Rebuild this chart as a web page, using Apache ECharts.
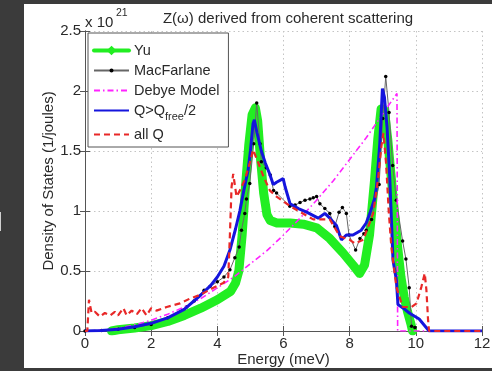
<!DOCTYPE html>
<html><head><meta charset="utf-8">
<script src="https://cdn.jsdelivr.net/npm/echarts@6/dist/echarts.min.js"></script>
<style>
html,body{margin:0;padding:0;background:#3b3b3b;}
#bgw{position:absolute;left:24px;top:4px;width:468px;height:364px;background:#fff;}
#mark{position:absolute;left:0;top:212px;width:1px;height:19px;background:#cfcfcf;}
#c{position:absolute;left:0;top:0;width:492px;height:371px;}
</style></head><body>
<div id="bgw"></div><div id="mark"></div><div id="c"></div>
<script>
// ---- data (energy meV, density of states x1e21 1/J) ----
const xTicks = [0, 2, 4, 6, 8, 10, 12];
const yTicks = [0, 0.5, 1, 1.5, 2, 2.5];

const yuE = [0.8,1.0,1.5,2.0,2.5,3.0,3.5,4.0,4.4,4.55,4.65,4.75,4.85,4.95,5.05,5.15,5.22,5.3,5.4,5.5,5.6,5.8,6.2,6.6,7.0,7.4,7.8,8.1,8.3,8.45,8.6,8.75,8.85,8.95,9.05,9.15,9.25,9.35,9.45,9.55,9.65,9.75,9.85,9.9];
const yuV = [0.0,0.01,0.025,0.045,0.08,0.13,0.19,0.26,0.33,0.4,0.5,0.8,1.2,1.55,1.8,1.86,1.75,1.45,1.15,0.97,0.92,0.9,0.9,0.89,0.86,0.77,0.65,0.55,0.48,0.55,0.8,1.25,1.6,1.85,1.84,1.6,1.3,1.0,0.7,0.45,0.28,0.16,0.06,0.0];

const macE = [0,0.5,1.0,1.5,2.0,2.5,3.07,3.3,3.6,3.78,4.0,4.2,4.38,4.53,4.66,4.73,4.83,4.88,4.98,5.1,5.19,5.29,5.33,5.48,5.6,5.7,5.79,6.19,6.35,6.5,6.65,6.8,6.9,7.0,7.1,7.25,7.4,7.55,7.68,7.78,7.9,7.98,8.18,8.31,8.43,8.5,8.66,8.89,9.0,9.09,9.19,9.3,9.41,9.6,9.7,9.8,9.87,9.97];
const macV = [0,0.005,0.015,0.03,0.055,0.11,0.2,0.25,0.34,0.37,0.41,0.45,0.51,0.61,0.7,0.84,0.98,1.1,1.23,1.56,1.9,1.56,1.41,1.36,1.3,1.17,1.15,1.04,1.05,1.07,1.09,1.1,1.11,1.12,1.06,1.02,0.98,0.87,0.99,1.03,0.98,0.8,0.675,0.77,0.81,0.84,0.93,1.22,1.77,2.12,1.82,1.38,1.09,0.75,0.6,0.36,0.04,0.03];

const debyeE = [0,0.5,1,1.5,2,2.5,3,3.5,4,4.5,5,5.5,6,6.5,7,7.5,8,8.5,9,9.43,9.45,12];
const debyeV = [0,0.006,0.022,0.05,0.09,0.14,0.2,0.27,0.36,0.45,0.56,0.67,0.8,0.94,1.09,1.25,1.43,1.61,1.81,1.98,0,0];

const qE = [0,0.5,1.0,1.5,2.0,2.5,3.0,3.5,3.8,4.0,4.2,4.38,4.55,4.68,4.8,4.93,5.0,5.08,5.12,5.2,5.33,5.45,5.58,5.69,5.79,5.99,6.05,6.2,6.45,6.7,7.05,7.25,7.4,7.6,7.75,7.9,8.1,8.35,8.5,8.61,8.75,8.81,8.91,8.99,9.05,9.13,9.21,9.31,9.41,9.46,9.62,9.8,10.1,10.4,12];
const qV = [0,0.005,0.015,0.035,0.064,0.11,0.18,0.3,0.38,0.45,0.54,0.675,0.85,1.0,1.17,1.34,1.5,1.73,1.76,1.65,1.5,1.4,1.31,1.22,1.24,1.27,1.2,1.06,1.02,0.99,0.94,0.98,0.94,0.88,0.76,0.8,0.8,0.84,0.9,0.98,1.1,1.2,1.56,2.02,1.95,1.7,1.29,0.59,0.43,0.22,0.19,0.15,0.1,0,0];

const allE = [0,0.07,0.12,0.2,0.3,0.45,0.6,0.76,0.9,1.0,1.16,1.26,1.41,1.57,1.71,1.86,2.0,2.16,2.47,2.87,3.17,3.47,3.88,4.18,4.33,4.38,4.43,4.48,4.58,4.68,4.83,4.98,5.08,5.24,5.39,5.59,5.79,6.2,6.9,7.4,7.7,8.0,8.16,8.41,8.71,8.85,8.96,9.02,9.1,9.18,9.26,9.41,9.6,9.87,10.02,10.17,10.27,10.32,10.37,10.4,12];
const allV = [0,0,0.26,0.15,0.16,0.12,0.15,0.13,0.16,0.13,0.19,0.13,0.17,0.14,0.19,0.13,0.19,0.17,0.2,0.23,0.27,0.3,0.36,0.4,0.45,0.8,1.2,1.31,1.12,1.17,1.26,1.4,1.51,1.4,1.29,1.17,1.12,1.04,0.93,0.93,0.79,0.76,0.73,0.76,0.98,1.25,1.54,1.65,1.4,1.0,0.7,0.37,0.2,0.2,0.23,0.37,0.48,0.34,0.09,0,0];

const seriesNames = ['Yu', 'MacFarlane', 'Debye Model', 'Q>Qfree/2', 'all Q'];
const titleText = 'Z(\u03C9) derived from coherent scattering';
const xName = 'Energy (meV)';
const yName = 'Density of States (1/joules)';

const zip = (a, b) => a.map((v, i) => [v, b[i]]);
const FONT = '"Liberation Sans", Arial, Helvetica, sans-serif';
const TXT = '#2a2a2a';
const GREEN = '#22ee22', BLUE = '#1515dd', RED = '#e82828', MAG = '#ff22ff';

const chart = echarts.init(document.getElementById('c'), null, {renderer: 'canvas'});
const baseAxis = {
  type: 'value', min: 0,
  axisLine: {show: true, lineStyle: {color: '#555', width: 1}},
  axisTick: {show: true, inside: true, length: 5, lineStyle: {color: '#555'}},
  splitLine: {show: true, lineStyle: {color: '#c4c4c4', type: [1.5, 3], width: 1}},
  axisLabel: {color: TXT, fontSize: 15, fontFamily: FONT}
};
chart.setOption({
  animation: false,
  backgroundColor: 'transparent',
  textStyle: {fontFamily: FONT},
  title: {
    text: titleText, left: 283, top: 6, textAlign: 'center',
    textStyle: {fontSize: 15, fontWeight: 'normal', color: TXT, fontFamily: FONT}
  },
  grid: {left: 85, right: 10, top: 31, bottom: 40, containLabel: false, outerBoundsMode: 'none'},
  xAxis: [
    Object.assign({}, baseAxis, {
      max: 12, interval: 2, position: 'bottom',
      axisLabel: Object.assign({}, baseAxis.axisLabel, {margin: 5, formatter: v => xTicks.includes(v) ? String(v) : ''}),
      name: xName, nameLocation: 'middle', nameGap: 21, nameMoveOverlap: false,
      nameTextStyle: {fontSize: 15, color: TXT, fontFamily: FONT}
    }),
    Object.assign({}, baseAxis, {max: 12, interval: 2, position: 'top', axisLabel: {show: false}, splitLine: {show: false}})
  ],
  yAxis: [
    Object.assign({}, baseAxis, {
      max: 2.5, interval: 0.5, position: 'left',
      axisLabel: Object.assign({}, baseAxis.axisLabel, {margin: 4, formatter: v => yTicks.includes(v) ? String(v) : ''}),
      name: yName, nameLocation: 'middle', nameGap: 29, nameMoveOverlap: false,
      nameTextStyle: {fontSize: 15, color: TXT, fontFamily: FONT}
    }),
    Object.assign({}, baseAxis, {max: 2.5, interval: 0.5, position: 'right', axisLabel: {show: false}, splitLine: {show: false}})
  ],
  legend: {
    orient: 'vertical', left: 88, top: 33,
    backgroundColor: '#fff', borderColor: '#555', borderWidth: 1,
    padding: [10, 9, 5, 4], itemGap: 5, itemWidth: 35, itemHeight: 5, itemTextGap: 4,
    data: [
      {name: 'Yu', itemStyle: {borderColor: GREEN, borderWidth: 4}, lineStyle: {width: 4}},
      {name: 'MacFarlane'},
      {name: 'Debye Model', itemStyle: {opacity: 0}},
      {name: 'Q>Qfree/2', itemStyle: {opacity: 0}},
      {name: 'all Q', itemStyle: {opacity: 0}}
    ],
    textStyle: {
      fontSize: 14.5, color: TXT, fontFamily: FONT,
      rich: {
        n: {fontSize: 14.5, color: TXT, fontFamily: FONT},
        s: {fontSize: 11, color: TXT, fontFamily: FONT, padding: [12, 0, 0, 0]}
      }
    },
    formatter: name => name === 'Q>Qfree/2' ? '{n|Q>Q}{s|free}{n|/2}' : '{n|' + name + '}'
  },
  graphic: [
    {type: 'text', left: 85, top: 15, style: {text: 'x 10', fill: TXT, font: '15px ' + FONT}},
    {type: 'text', left: 116, top: 8, style: {text: '21', fill: TXT, font: '10.5px ' + FONT}}
  ],
  series: [
    {name: 'Yu', type: 'line', data: zip(yuE, yuV), showSymbol: false, symbol: 'diamond',
     lineStyle: {color: GREEN, width: 9, join: 'round', cap: 'round'}, itemStyle: {color: GREEN}, z: 1},
    {name: 'MacFarlane', type: 'line', data: zip(macE, macV), showSymbol: true, symbol: 'circle', symbolSize: 3.5,
     lineStyle: {color: '#666', width: 1}, itemStyle: {color: '#000', borderWidth: 0}, z: 2},
    {name: 'Debye Model', type: 'line', data: zip(debyeE, debyeV), showSymbol: false, symbol: 'none',
     lineStyle: {color: MAG, width: 1.6, type: [6, 3, 1.5, 3]}, itemStyle: {color: MAG}, z: 3},
    {name: 'Q>Qfree/2', type: 'line', data: zip(qE, qV), showSymbol: false, symbol: 'none',
     lineStyle: {color: BLUE, width: 3}, itemStyle: {color: BLUE}, z: 4},
    {name: 'all Q', type: 'line', data: zip(allE, allV), showSymbol: false, symbol: 'none',
     lineStyle: {color: RED, width: 2.2, type: [6, 4]}, itemStyle: {color: RED}, z: 5}
  ]
});
</script></body></html>
